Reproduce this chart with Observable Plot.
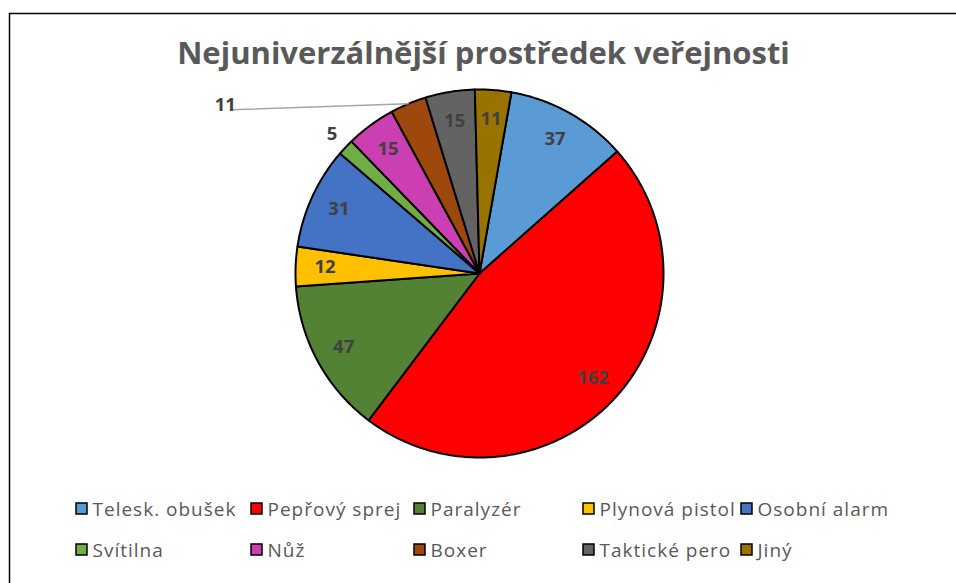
<!DOCTYPE html>
<html>
<head>
<meta charset="utf-8">
<script src="https://cdn.jsdelivr.net/npm/d3@7"></script>
<script src="https://cdn.jsdelivr.net/npm/@observablehq/plot@0.6"></script>
<style>
  html, body { margin: 0; padding: 0; background: #fff; }
  #chart svg { display: block; }
</style>
</head>
<body>
<div id="chart"></div>
<script>
const title = "Nejuniverzálnější prostředek veřejnosti";
const categories = ["Telesk. obušek", "Pepřový sprej", "Paralyzér", "Plynová pistol", "Osobní alarm", "Svítilna", "Nůž", "Boxer", "Taktické pero", "Jiný"];
const values = [37, 162, 47, 12, 31, 5, 15, 11, 15, 11];
const colors = ["#5B9BD5", "#FF0000", "#548235", "#FFC000", "#4472C4", "#70AD47", "#CC3FB2", "#9E480E", "#636363", "#997300"];

// layout
const W = 956, H = 583;
const cx = 479, cy = 273, R = 184;
const firstSliceAngle = 10; // degrees
const outsideLabels = new Set(["Svítilna"]);
const leaderLabels = new Set(["Boxer"]);

const pie = d3.pie().sort(null)
  .startAngle(firstSliceAngle * Math.PI / 180)
  .endAngle(firstSliceAngle * Math.PI / 180 + 2 * Math.PI);
const arcs = pie(values);

const pt = (a, r) => ({x: cx + r * Math.sin(a), y: cy - r * Math.cos(a)});

const slicePts = [];
arcs.forEach((s, i) => {
  const cat = categories[i];
  slicePts.push({cat, ...pt(0, 0)});
  const n = Math.max(2, Math.ceil((s.endAngle - s.startAngle) / 0.01));
  for (let k = 0; k <= n; k++) {
    const a = s.startAngle + (s.endAngle - s.startAngle) * k / n;
    slicePts.push({cat, ...pt(a, R)});
  }
  slicePts.push({cat, ...pt(0, 0)});
});

const labels = [];
const leaders = [];
arcs.forEach((s, i) => {
  const cat = categories[i];
  const mid = (s.startAngle + s.endAngle) / 2;
  if (leaderLabels.has(cat)) {
    const o = pt(mid, R);
    const lx = o.x - 178, ly = o.y + 6;
    leaders.push({cat, x: o.x, y: o.y}, {cat, x: lx, y: ly});
    labels.push({text: String(values[i]), x: lx - 5, y: ly - 5, anchor: "end"});
  } else if (outsideLabels.has(cat)) {
    const p = pt(mid, R + 20);
    labels.push({text: String(values[i]), x: p.x + 1, y: p.y, anchor: "middle"});
  } else {
    const p = pt(mid, R * 0.84);
    labels.push({text: String(values[i]), x: p.x, y: p.y, anchor: "middle"});
  }
});

// legend layout
const legendCols = [76, 251, 414, 583, 741];
const legendRows = [509, 550];
const legend = categories.map((cat, i) => ({
  cat,
  x: legendCols[i % 5],
  y: legendRows[Math.floor(i / 5)]
}));

const chart = Plot.plot({
  width: W,
  height: H,
  margin: 0,
  x: {domain: [0, W], range: [0, W], axis: null},
  y: {domain: [0, H], range: [0, H], axis: null},
  color: {type: "ordinal", domain: categories, range: colors},
  style: {fontFamily: "'Open Sans', Lato, sans-serif", background: "#fff"},
  marks: [
    Plot.ruleY([13], {x1: 9, x2: W, stroke: "#000", strokeWidth: 1.5}),
    Plot.ruleX([9], {y1: 13, y2: H, stroke: "#000", strokeWidth: 1.5}),
    Plot.text([title], {x: 483, y: 54, text: d => d, fontSize: 31, fontWeight: "bold", fill: "#595959"}),
    Plot.line(slicePts, {x: "x", y: "y", z: "cat", fill: "cat", stroke: "#000", strokeWidth: 2, strokeLinejoin: "round", curve: "linear"}),
    Plot.line(leaders, {x: "x", y: "y", z: "cat", stroke: "#A6A6A6", strokeWidth: 1.5}),
    Plot.text(labels, {x: "x", y: "y", text: "text", textAnchor: "anchor", fill: "#404040", fontSize: 18.5, fontWeight: "bold"}),
    Plot.rect(legend, {x1: d => d.x, x2: d => d.x + 11, y1: d => d.y - 6, y2: d => d.y + 5, fill: "cat", stroke: "#000", strokeWidth: 1.5}),
    Plot.text(legend, {x: d => d.x + 16, y: "y", text: "cat", textAnchor: "start", fill: "#595959", fontSize: 19})
  ]
});
// widen legend lettering to match the reference's spacing
const textGroups = chart.querySelectorAll('g[aria-label="text"]');
if (textGroups.length) textGroups[textGroups.length - 1].style.letterSpacing = "1px";
document.getElementById("chart").appendChild(chart);
</script>
</body>
</html>
